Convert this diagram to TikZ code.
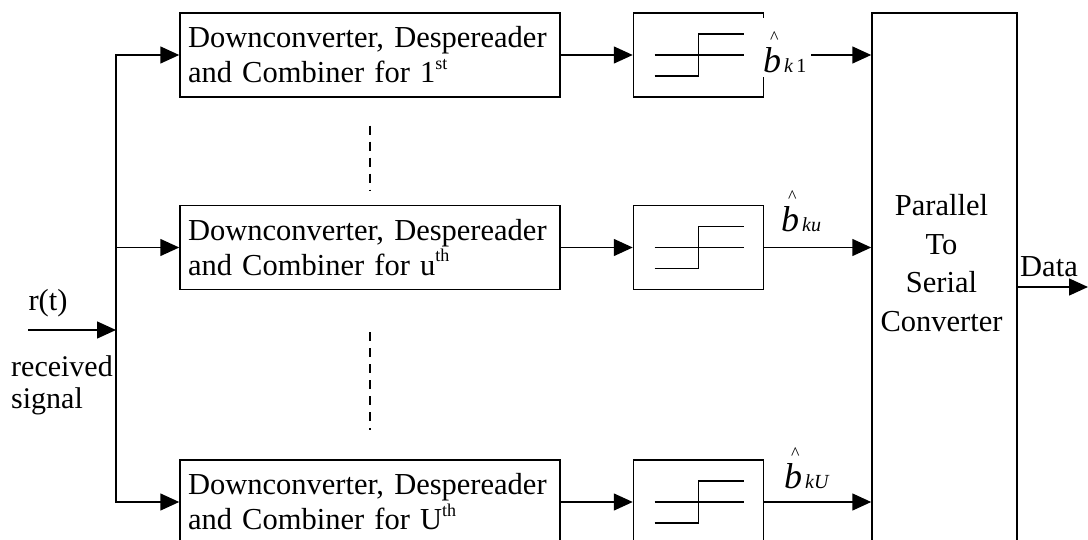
\documentclass[tikz,border=0pt]{standalone}
\usepackage{fontspec}
\setmainfont{Liberation Serif}
\usepackage{tikz}
\usetikzlibrary{arrows.meta, positioning}
\newcommand{\bhat}[1]{%
  \rlap{\hspace{7pt}\raisebox{29pt}{\fontsize{18}{18}\selectfont\textasciicircum}}%
  {\fontsize{36}{36}\selectfont\itshape b}\hspace{3pt}%
  {\fontsize{20}{20}\selectfont\itshape #1}}
\newcommand{\sups}[1]{\raisebox{0.45em}{\fontsize{18}{18}\selectfont #1}}

\begin{document}
\begin{tikzpicture}[
    x=1pt, y=-1pt,
    node distance = 72pt and 72pt,
    blokk/.style = {rectangle, draw, line width=1.5pt, minimum height=84pt,
                    text width=364pt, align=left, inner xsep=8pt},
    terskel/.style = {rectangle, draw, line width=1.5pt, minimum width=130pt, minimum height=84pt},
    pil/.style = {black, line width=1.5pt, -{Triangle[length=19pt,width=17pt]}},
    strek/.style = {black, line width=1.6pt},
    stipla/.style = {black, line width=1.5pt, dash pattern=on 9pt off 7pt},
    txt/.style = {inner sep=0pt},
    font=\fontsize{30.5}{35}\selectfont
    ]

  \useasboundingbox (0,0) rectangle (1088,540);
  \clip (0,0) rectangle (1088,540);

  \node[blokk] (dcc1) at (370,55) {Downconverter, Despereader\\and Combiner for 1\sups{st}} ;
  \node[blokk] (dccu) [below=107pt of dcc1] {Downconverter, Despereader\\and Combiner for u\sups{th}} ;
  \node[blokk] (dccU) [below=169pt of dccu] {Downconverter, Despereader\\and Combiner for U\sups{th}} ;

  \node[terskel] (dec1) [right=72pt of dcc1] {} ;
  \node[terskel] (decu) [right=72pt of dccu] {} ;
  \node[terskel] (decU) [right=72pt of dccU] {} ;

  \node[rectangle, draw, line width=1.5pt, minimum width=145pt, minimum height=540pt,
        right=107pt of dec1.north east, anchor=north west] (p2s) {} ;
  \node[txt, align=center, font=\fontsize{30.5}{38.5}\selectfont] (p2stxt) at (941.5,263) {Parallel\\To\\Serial\\Converter} ;

  % step symbol in the decision boxes
  \foreach \d in {dec1,decu,decU}{
    \draw[strek] ([xshift=-44pt]\d.center) -- ([xshift=45pt]\d.center);
    \draw[strek] ([shift={(-44pt,-21pt)}]\d.center) -- ([shift={(0pt,-21pt)}]\d.center)
      -- ([shift={(0pt,21pt)}]\d.center) -- ([shift={(45pt,21pt)}]\d.center);
  }

  % input and splitting
  \coordinate (inn) at (28,330);
  \coordinate (knut) at (116,330);
  \node[txt, anchor=base] (rt) at (48,311) {r(t)} ;
  \node[txt, align=left, anchor=north west, font=\fontsize{30}{32}\selectfont] (mottatt) at (11,355) {received\\signal} ;

  \draw[pil] (inn) -- (knut);
  \draw[pil] (knut) |- (dcc1.west);
  \draw[pil] (knut) |- (dccU.west);
  \draw[pil] (knut |- dccu.west) -- (dccu.west);

  \draw[pil]
  (dcc1) edge (dec1)
  (dccu) edge (decu)
  (dccU) edge (decU);

  \draw[pil] (dec1) -- (dec1 -| p2s.west);
  \draw[pil] (decu) -- (decu -| p2s.west);
  \draw[pil] (decU) -- (decU -| p2s.west);

  \node[txt, fill=white, inner xsep=5pt, text height=55pt, text depth=4pt, anchor=base west] (bh1) at (758,73) {\bhat{k\,\upshape 1}} ;
  \node[txt, anchor=base west] (bhu) at (781,232) {\bhat{ku}} ;
  \node[txt, anchor=base west] (bhU) at (784,488) {\bhat{kU}} ;

  % dashed lines between the branches
  \draw[stipla] ([yshift=-28pt]dcc1.south) -- ([yshift=14pt]dccu.north);
  \draw[stipla] ([yshift=-42pt]dccu.south) -- ([yshift=29pt]dccU.north);

  % output
  \coordinate (ut) at (1088,287);
  \draw[pil] (ut -| p2s.east) -- (ut);
  \node[txt, anchor=base west] (data) at (1020,277) {Data} ;

\end{tikzpicture}
\end{document}
